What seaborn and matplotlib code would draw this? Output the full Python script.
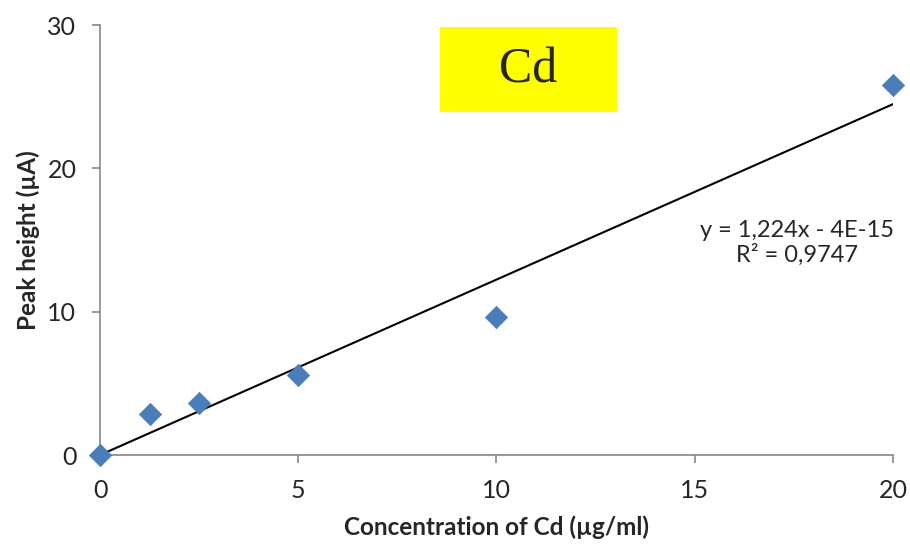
import numpy as np
import pandas as pd
import seaborn as sns
from matplotlib import pyplot as plt
from matplotlib.patches import Rectangle

# Dữ liệu
conc = [0, 1.25, 2.5, 5, 10, 20]
peak = [0, 2.85, 3.6, 5.55, 9.6, 25.8]
slope = 1.224
intercept = -4e-15
fit_x = [0, 20]

df = pd.DataFrame({"conc": conc, "peak": peak})
df_fit = pd.DataFrame({"x": fit_x, "y": [slope * v + intercept for v in fit_x]})

sns.set_style("white")
plt.rcParams['font.family'] = ['Lato', 'DejaVu Sans']

fig = plt.figure(figsize=(9.1, 5.45), dpi=100)
ax = fig.add_axes([0.1099, 0.1651, 0.8714, 0.789])

sns.lineplot(data=df_fit, x="x", y="y", ax=ax, color="black", linewidth=1.5, zorder=2)
sns.scatterplot(data=df, x="conc", y="peak", ax=ax, marker="D", s=130,
                color="#4a7ebb", edgecolor="#4a7ebb", linewidth=0.5, zorder=3, clip_on=False)

ax.set_xlim(0, 20)
ax.set_ylim(0, 30)
ax.set_xticks([0, 5, 10, 15, 20])
ax.set_yticks([0, 10, 20, 30])
ax.tick_params(axis='both', direction='out', length=6, width=1.2, color='#868686',
               labelsize=18, pad=11, left=True, bottom=True)
for side in ['top', 'right']:
    ax.spines[side].set_visible(False)
for side in ['left', 'bottom']:
    ax.spines[side].set_color('#868686')
    ax.spines[side].set_linewidth(1.2)

ax.set_xlabel("Concentration of Cd (µg/ml)", fontsize=17.5, fontweight='bold', labelpad=10)
ax.set_ylabel("Peak height (µA)", fontsize=17.5, fontweight='bold', labelpad=5)

# Ô tiêu đề màu vàng
fig.patches.append(Rectangle((440 / 910, 1 - 112 / 545), 177 / 910, 85 / 545,
                             transform=fig.transFigure, facecolor='yellow', edgecolor='none'))
fig.text(528 / 910, 1 - 70 / 545, "Cd", family='Liberation Serif', fontsize=36,
         ha='center', va='center')

ax.text(17.58, 14.8, "y = 1,224x - 4E-15\nR² = 0,9747", fontsize=17, ha='center',
        va='center', linespacing=1.15)

fig.savefig("out.png", dpi=100)
